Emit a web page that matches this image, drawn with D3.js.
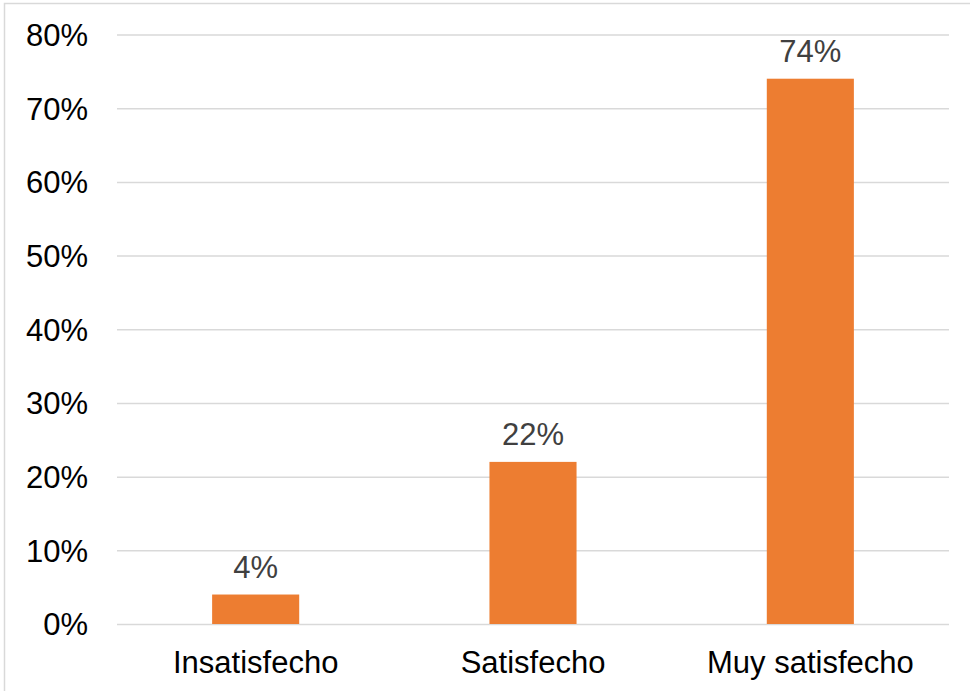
<!DOCTYPE html>
<html><head><meta charset="utf-8">
<script src="https://cdn.jsdelivr.net/npm/d3@7"></script>
<style>html,body{margin:0;padding:0;background:#fff;}svg{display:block;}</style>
</head><body>
<script>
const categories = ["Insatisfecho", "Satisfecho", "Muy satisfecho"];
const values = [0.04, 0.22, 0.74];
const valueLabels = ["4%", "22%", "74%"];
const yTicks = [0, 0.1, 0.2, 0.3, 0.4, 0.5, 0.6, 0.7, 0.8];

(function () {
const W = 970, H = 691;
const pLeft = 117, pRight = 949, pTop = 34.5, pBottom = 624;
const svg = d3.select("body").append("svg").attr("width", W).attr("height", H);

svg.append("rect").attr("x", 4.5).attr("y", 3.5).attr("width", W + 10).attr("height", H + 10)
  .attr("fill", "none").attr("stroke", "#D9D9D9").attr("stroke-width", 1.5);

const y = d3.scaleLinear().domain([0, 0.8]).range([pBottom, pTop]);
const x = d3.scaleBand().domain(categories).range([pLeft, pRight]).paddingInner(0.686).paddingOuter(0.343);

const yAxis = d3.axisLeft(y).tickValues(yTicks).tickFormat(d3.format(".0%")).tickSize(-(pRight - pLeft)).tickPadding(29);
const gy = svg.append("g").attr("transform", `translate(${pLeft},0)`).call(yAxis);
gy.select(".domain").remove();
gy.selectAll(".tick line").attr("stroke", "#D9D9D9").attr("stroke-width", 1.5);
gy.selectAll(".tick text").attr("font-family", "Liberation Sans, Arial, sans-serif").attr("font-size", 31).attr("fill", "#000").attr("dy", "0.35em");

svg.selectAll(".bar").data(values).enter().append("rect")
  .attr("x", (d, i) => x(categories[i])).attr("width", x.bandwidth())
  .attr("y", d => y(d)).attr("height", d => y(0) - y(d)).attr("fill", "#ED7D31");

svg.selectAll(".vlab").data(values).enter().append("text")
  .attr("x", (d, i) => x(categories[i]) + x.bandwidth() / 2).attr("y", d => y(d) - 17)
  .attr("text-anchor", "middle").attr("font-family", "Liberation Sans, Arial, sans-serif").attr("font-size", 31)
  .attr("fill", "#404040").text((d, i) => valueLabels[i]);

const xAxis = d3.axisBottom(x).tickSize(0).tickPadding(0);
const gx = svg.append("g").attr("transform", `translate(0,${pBottom})`).call(xAxis);
gx.select(".domain").remove();
gx.selectAll(".tick text").attr("font-family", "Liberation Sans, Arial, sans-serif").attr("font-size", 31).attr("fill", "#000")
  .attr("dy", null).attr("y", 48.7);
})();
</script>
</body></html>
